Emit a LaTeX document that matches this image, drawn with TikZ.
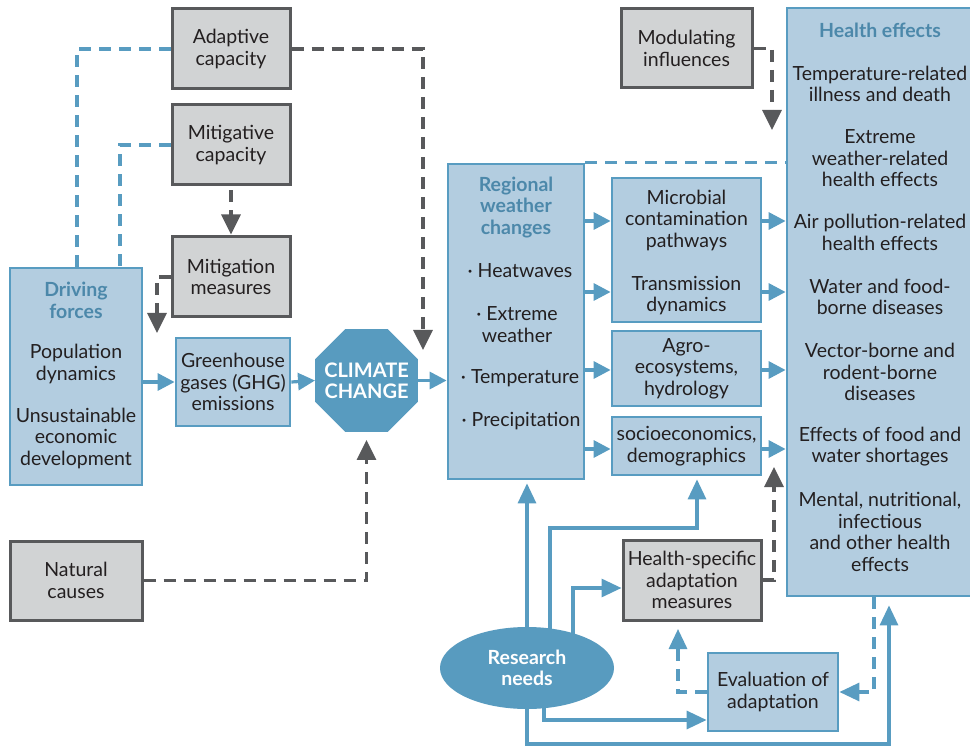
\documentclass[tikz,border=0pt]{standalone}
\usepackage{fontspec}
\setmainfont{Lato}
\usetikzlibrary{arrows.meta,shapes.geometric}
\definecolor{boxfill}{RGB}{179,205,224}
\definecolor{boxline}{RGB}{88,156,193}
\definecolor{darkfill}{RGB}{88,155,191}
\definecolor{titleblue}{RGB}{76,136,170}
\definecolor{grayfill}{RGB}{209,211,212}
\definecolor{grayline}{RGB}{88,89,91}
\definecolor{txt}{RGB}{35,31,32}
\pgfdeclarelayer{bg}
\pgfsetlayers{bg,main}
\begin{document}
\begin{tikzpicture}[x=1pt,y=-1pt,
  font=\fontsize{19.5}{21.5}\selectfont, text=txt,
  bbox/.style={draw=boxline, fill=boxfill, line width=2.8pt, inner sep=0pt, align=center},
  gbox/.style={draw=grayline, fill=grayfill, line width=3pt, inner sep=0pt, align=center},
  lbl/.style={align=center, inner sep=0pt},
  ttl/.style={align=center, inner sep=0pt, text=titleblue, font=\fontsize{19.5}{21.5}\selectfont\bfseries},
  barrow/.style={draw=boxline, line width=3.2pt, -{Triangle[length=17pt,width=17pt]}},
  barrowb/.style={draw=boxline, line width=3.2pt, -{Triangle[length=20pt,width=18pt]}},
  bdash/.style={draw=boxline, line width=3.2pt, dash pattern=on 12pt off 8pt},
  gdash/.style={draw=grayline, line width=3.2pt, dash pattern=on 12pt off 8pt},
  btip/.style={-{Triangle[length=20pt,width=18pt]}},
  gtip/.style={-{Triangle[length=20pt,width=19pt]}, shorten >=1pt},
]
\useasboundingbox (0,0) rectangle (970,746);
\begin{pgfonlayer}{bg}
\fill[white] (0,0) rectangle (970,746);
\end{pgfonlayer}

% gray boxes
\node[gbox, minimum width=118pt, minimum height=80pt] (ac) at (231,49) {Adaptive\\capacity};
\node[gbox, minimum width=118pt, minimum height=80pt] (mc) at (231,145) {Mitigative\\capacity};
\node[gbox, minimum width=118pt, minimum height=80pt] (mm) at (231,277) {Mitigation\\measures};
\node[gbox, minimum width=132pt, minimum height=79pt] (nc) at (76,580.5) {Natural\\causes};
\node[gbox, minimum width=131pt, minimum height=79pt] (mi) at (686.5,48.5) {Modulating\\influences};
\node[gbox, minimum width=138pt, minimum height=80pt] (hs) at (692,580) {Health-specific\\adaptation\\measures};

% blue boxes
\node[bbox, minimum width=132pt, minimum height=217pt] (df) at (76,376.5) {};
\node[ttl] (dft) at (76,300.5) {Driving\\forces};
\node[lbl] (dfp) at (76,364) {Population\\dynamics};
\node[lbl] (dfu) at (76,438) {Unsustainable\\economic\\development};

\node[bbox, minimum width=114pt, minimum height=88pt] (ghg) at (233,382) {Greenhouse\\gases (GHG)\\emissions};

\node[regular polygon, regular polygon sides=8, fill=darkfill, minimum size=111pt, inner sep=0pt] (cc) at (366.5,380.5) {};
\node[align=center, inner sep=0pt, text=white, font=\fontsize{20}{21}\selectfont\bfseries] (cct) at (cc.center) {CLIMATE\\CHANGE};

\node[bbox, minimum width=136pt, minimum height=315pt] (rw) at (516,321.5) {};
\node[ttl] (rwt) at (516,207.5) {Regional\\weather\\changes};
\node[lbl] (rw1) at (520,271) {· Heatwaves};
\node[lbl] (rw2) at (517,324.5) {· Extreme\\weather};
\node[lbl] (rw3) at (520,378) {· Temperature};
\node[lbl] (rw4) at (521,421) {· Precipitation};

\node[bbox, minimum width=149pt, minimum height=144pt] (mb) at (686.5,250) {};
\node[lbl] (mbt) at (686.5,220) {Microbial\\contamination\\pathways};
\node[lbl] (mbd) at (686.5,295.5) {Transmission\\dynamics};
\node[bbox, minimum width=149pt, minimum height=75pt] (ag) at (686.5,368.5) {Agro-\\ecosystems,\\hydrology};
\node[bbox, minimum width=149pt, minimum height=58pt] (se) at (686.5,446) {socioeconomics,\\demographics};

\node[bbox, minimum width=198pt, minimum height=588pt] (he) at (886,302) {};
\node[ttl] (het) at (880,30) {Health effects};
\node[lbl] (he1) at (880,84) {Temperature-related\\illness and death};
\node[lbl] (he2) at (880,158.5) {Extreme\\weather-related\\health effects};
\node[lbl] (he3) at (880,232.5) {Air pollution-related\\health effects};
\node[lbl] (he4) at (880,297) {Water and food-\\borne diseases};
\node[lbl] (he5) at (880,372) {Vector-borne and\\rodent-borne\\diseases};
\node[lbl] (he6) at (880,446.5) {Effects of food and\\water shortages};
\node[lbl] (he7) at (880,532) {Mental, nutritional,\\infectious\\and other health\\effects};

\node[bbox, minimum width=130pt, minimum height=78pt] (ev) at (773,692) {Evaluation of\\adaptation};

\node[ellipse, fill=darkfill, minimum width=174pt, minimum height=82pt, inner sep=0pt,
      text=white, align=center, font=\fontsize{19.5}{21.5}\selectfont\bfseries] (rn) at (527,668) {Research\\needs};

% coordinates
\coordinate (dfA) at (77,267);
\coordinate (dfB) at (120,267);
\coordinate (ccin) at (423,351);
\coordinate (ghgin) at (157,334);
\coordinate (mitip) at (772,131);
\coordinate (hstip) at (774,466);
\coordinate (y1) at (0,221);
\coordinate (y2) at (0,292);
\coordinate (y3) at (0,370);
\coordinate (y4) at (0,449);
\coordinate (r1) at (527,668);
\coordinate (r2) at (550,668);
\coordinate (r3) at (573,668);
\coordinate (r4) at (544,668);
\coordinate (k2) at (697,528);
\coordinate (k3) at (0,588);
\coordinate (k4) at (0,720);
\coordinate (k5) at (889,744);
\coordinate (k6) at (678,628);
\coordinate (k7) at (874,597);

% dashed influence lines
\draw[bdash] (ac.west) -| (dfA);
\draw[bdash] (mc.west) -| (dfB);
\draw[gdash, gtip] (ac.east) -| (ccin);
\draw[gdash, gtip, shorten <=4pt] (mc.south) -- (mm.north);
\draw[gdash, gtip] (mm.west) -| (ghgin);
\draw[gdash, gtip, shorten >=8pt] (nc.east) -| (cc.south);
\draw[gdash, gtip] (mi.east) -| (mitip);
\draw[gdash, gtip] (hs.east) -| (hstip);
\draw[bdash] (rw.north east) -- (he.west |- rw.north east);

% main flow
\draw[barrow] (df.east |- ghg.west) -- (ghg.west);
\draw[barrow] (ghg.east) -- (cc.west);
\draw[barrow] (cc.east) -- (cc.east -| rw.west);
\draw[barrow] (rw.east |- y1) -- (mb.west |- y1);
\draw[barrow] (rw.east |- y2) -- (mb.west |- y2);
\draw[barrow] (rw.east |- y3) -- (ag.west |- y3);
\draw[barrow] (rw.east |- y4) -- (se.west |- y4);
\draw[barrow] (mb.east |- y1) -- (he.west |- y1);
\draw[barrow] (mb.east |- y2) -- (he.west |- y2);
\draw[barrow] (ag.east |- y3) -- (he.west |- y3);
\draw[barrow] (se.east |- y4) -- (he.west |- y4);

% research needs
\begin{pgfonlayer}{bg}
\draw[barrowb, shorten >=3pt] (r1) -- (r1 |- rw.south);
\draw[barrowb, shorten >=3pt] (r2) |- (k2) -- (k2 |- se.south);
\draw[barrowb] (r3) |- (hs.west |- k3);
\draw[barrowb] (r4) |- (ev.west |- k4);
\draw[barrowb, shorten >=8pt] (r1) |- (k5) -- (k5 |- he.south);
\end{pgfonlayer}
\draw[bdash, btip, shorten >=1pt] (ev.west) -| (k6);
\draw[bdash, btip] (k7) |- (ev.east);
\end{tikzpicture}
\end{document}
